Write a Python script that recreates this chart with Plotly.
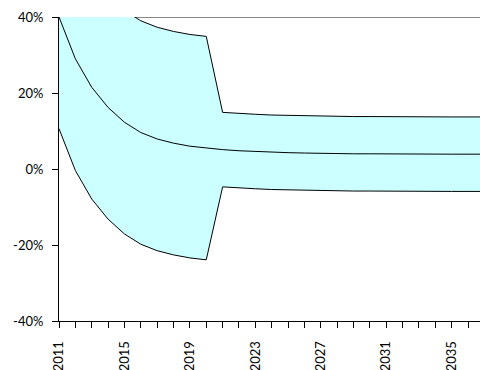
import plotly.graph_objects as go

# Projection years and the central path with its upper / lower band (percent)
years = list(range(2011, 2038))
central = [40.0, 29.0, 21.5, 16.2, 12.3, 9.6, 7.9, 6.8, 6.0, 5.5,
           5.1, 4.8, 4.6, 4.4, 4.3, 4.2, 4.1, 4.05, 4.0, 4.0,
           3.95, 3.95, 3.9, 3.9, 3.9, 3.9, 3.9]
upper = [69.4, 58.4, 50.9, 45.6, 41.7, 39.0, 37.3, 36.2, 35.4, 34.9,
         14.9, 14.6, 14.4, 14.2, 14.1, 14.0, 13.9, 13.85, 13.8, 13.8,
         13.75, 13.75, 13.7, 13.7, 13.7, 13.7, 13.7]
lower = [10.6, -0.4, -7.9, -13.2, -17.1, -19.8, -21.5, -22.6, -23.4, -23.9,
         -4.7, -5.0, -5.2, -5.4, -5.5, -5.6, -5.7, -5.75, -5.8, -5.8,
         -5.85, -5.85, -5.9, -5.9, -5.9, -5.9, -5.9]

y_ticks = [-40, -20, 0, 20, 40]
y_labels = ["-40%", "-20%", "0%", "20%", "40%"]

FONT = "Lato"
line_style = dict(color="black", width=1)

fig = go.Figure()
fig.add_trace(go.Scatter(x=years, y=lower, mode="lines", line=line_style,
                         showlegend=False, hoverinfo="skip"))
fig.add_trace(go.Scatter(x=years, y=upper, mode="lines", line=line_style,
                         fill="tonexty", fillcolor="#CCFFFF",
                         showlegend=False, hoverinfo="skip"))
fig.add_trace(go.Scatter(x=years, y=central, mode="lines", line=line_style,
                         showlegend=False, hoverinfo="skip"))

# top frame line, sitting under the shaded band
fig.add_shape(type="line", xref="paper", x0=0, x1=1, yref="y", y0=40, y1=40,
              line=dict(color="#111111", width=1.2), layer="below")

fig.update_layout(
    width=480, height=370,
    margin=dict(l=59, r=0, t=17, b=49, autoexpand=False),
    paper_bgcolor="white", plot_bgcolor="white",
    font=dict(family=FONT, size=13, color="black"),
    xaxis=dict(
        range=[2011, 2036.73], autorange=False,
        tickmode="linear", tick0=2011, dtick=4,
        tickangle=-90, ticks="outside", ticklen=6, tickwidth=1, tickcolor="black",
        minor=dict(dtick=1, tick0=2011, ticks="outside", ticklen=6, tickcolor="black", tickwidth=1),
        showline=True, linecolor="black", linewidth=1,
        showgrid=False, zeroline=False,
        ticklabelstandoff=8, automargin=False,
    ),
    yaxis=dict(
        range=[-40, 40], autorange=False,
        tickmode="array", tickvals=y_ticks, ticktext=y_labels,
        ticks="outside", ticklen=6, tickwidth=1, tickcolor="black",
        showline=True, linecolor="black", linewidth=1,
        showgrid=False, zeroline=False,
        ticklabelstandoff=6, automargin=False,
    ),
)

fig.write_html("out.html")
